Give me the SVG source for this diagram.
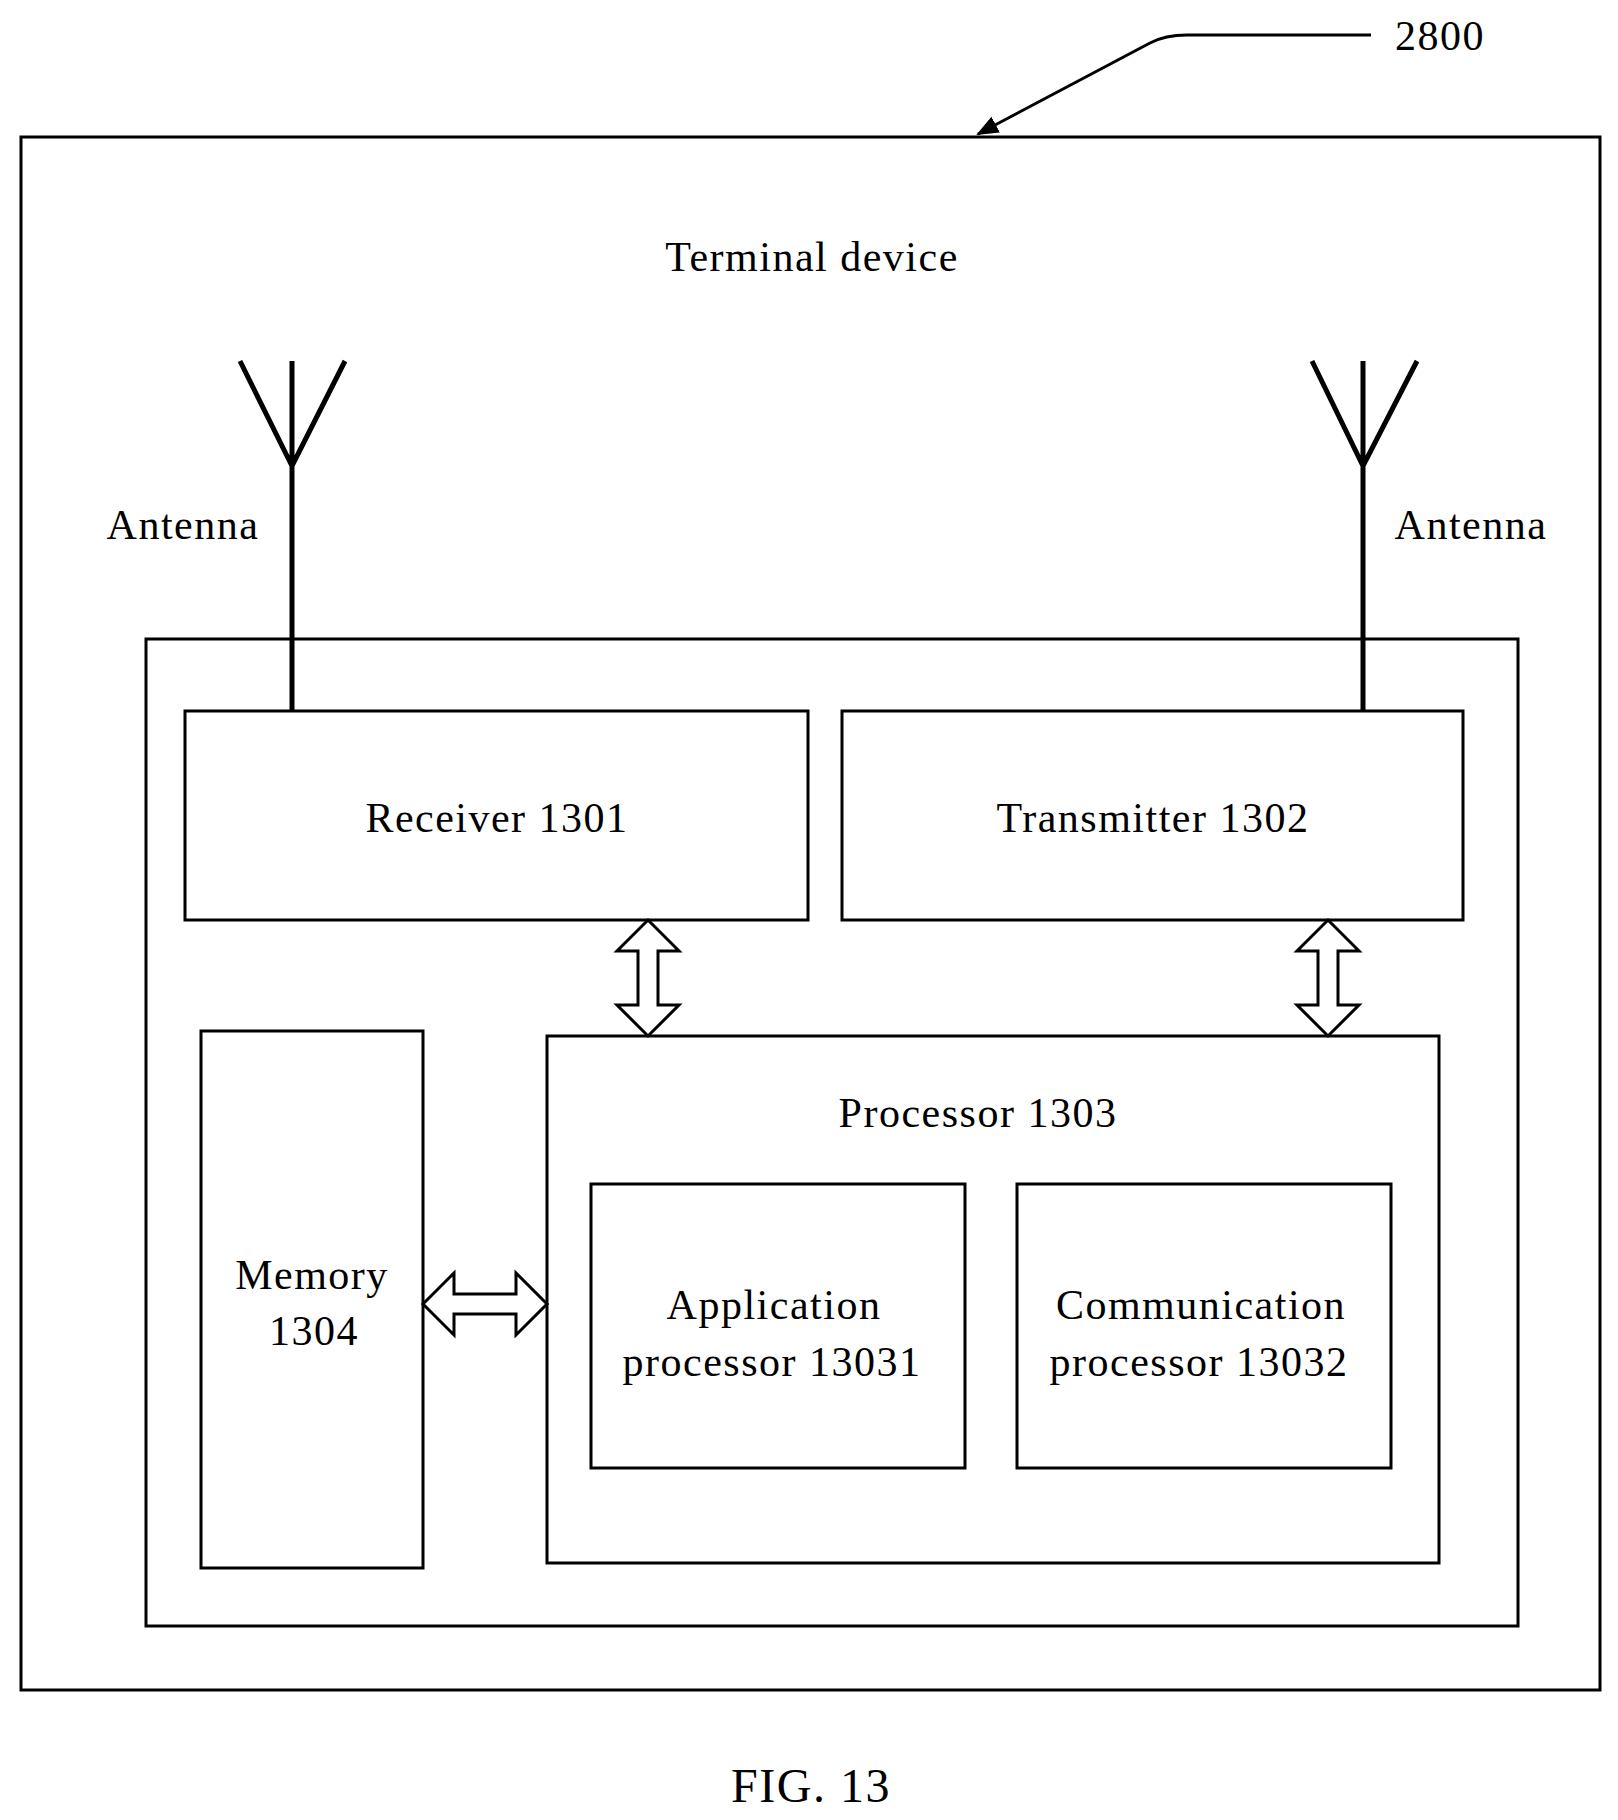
<svg xmlns="http://www.w3.org/2000/svg" width="1618" height="1820" viewBox="0 0 1618 1820">
<style>
.b{fill:none;stroke:#000;stroke-width:3}
.ant{fill:none;stroke:#000;stroke-width:5}
.a{fill:#fff;stroke:#000;stroke-width:3;stroke-linejoin:miter}
text{font-family:"Liberation Serif",serif;font-size:42px;fill:#000;text-anchor:middle;letter-spacing:1.5px}
</style>
<defs><marker id="m" markerWidth="22" markerHeight="18" refX="20" refY="9" orient="auto" markerUnits="userSpaceOnUse" viewBox="0 0 22 18"><path d="M0,0 L22,9 L0,18 z" fill="#000"/></marker></defs>
<rect width="1618" height="1820" fill="#fff"/>
<g id="device"><rect class="b" x="21" y="137" width="1579" height="1553"/><text x="812" y="271">Terminal device</text></g>
<g id="ref2800"><text x="1440" y="50">2800</text></g>
<g id="antL"><path class="ant" d="M292,361 V710 M240,361 L292,466 L345,361"/><text x="183" y="539">Antenna</text></g>
<g id="antR"><path class="ant" d="M1363,361 V710 M1312,361 L1363,466 L1417,361"/><text x="1471" y="539">Antenna</text></g>
<g id="board"><rect class="b" x="146" y="639" width="1372" height="987"/></g>
<g id="receiver"><rect class="b" x="185" y="711" width="623" height="209"/><text x="497" y="832">Receiver 1301</text></g>
<g id="transmitter"><rect class="b" x="842" y="711" width="621" height="209"/><text x="1153" y="832">Transmitter 1302</text></g>
<g id="memory"><rect class="b" x="201" y="1031" width="222" height="537"/><text x="312" y="1289">Memory</text><text x="314" y="1345">1304</text></g>
<g id="processor"><rect class="b" x="547" y="1036" width="892" height="527"/><text x="978" y="1127">Processor 1303</text></g>
<g id="app"><rect class="b" x="591" y="1184" width="374" height="284"/><text x="774" y="1319">Application</text><text x="772" y="1376">processor 13031</text></g>
<g id="comm"><rect class="b" x="1017" y="1184" width="374" height="284"/><text x="1201" y="1319">Communication</text><text x="1199" y="1376">processor 13032</text></g>
<g id="connectors">
<path class="b" d="M1371,35 H1187 Q1165,35 1150,43 L978,134" marker-end="url(#m)"/>
<path class="a" d="M648,920 L679,951 H658 V1005 H679 L648,1036 L617,1005 H638 V951 H617 Z"/>
<path class="a" d="M1328,920 L1359,951 H1338 V1005 H1359 L1328,1036 L1297,1005 H1318 V951 H1297 Z"/>
<path class="a" d="M423,1304 L454,1273 V1294 H516 V1273 L547,1304 L516,1335 V1314 H454 V1335 Z"/>
</g>
<text x="811" y="1802" style="font-size:48px">FIG. 13</text>
</svg>
